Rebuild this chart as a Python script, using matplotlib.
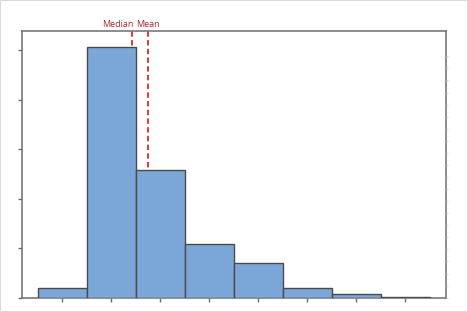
import matplotlib
matplotlib.use("Agg")
import matplotlib.pyplot as plt
from matplotlib.patches import Rectangle

# Data (percent per bin, bins centered at 1..8)
bin_centers = [1, 2, 3, 4, 5, 6, 7, 8]
percents = [1.9, 50.7, 25.9, 10.9, 6.95, 1.9, 0.8, 0.1]
median_val = 2.43
mean_val = 2.755
y_ticks = [0, 10, 20, 30, 40, 50]
right_ticks = list(range(0, 21))

fig = plt.figure(figsize=(4.68, 3.12), dpi=100)
fig.patches.append(Rectangle((0, 0), 1, 1, transform=fig.transFigure,
                             fill=False, edgecolor="#dadada", linewidth=1.5))
ax = fig.add_axes([21.5/468, 1 - 297.7/312, (446 - 21.5)/468, (297.7 - 30.5)/312])

ax.bar(bin_centers, percents, width=1.0, color="#7BA6D8", edgecolor="#4a4a4a",
       linewidth=1.0, zorder=3)

ax.axvline(median_val, color="#e00000", linestyle=(0, (3.5, 2.2)), linewidth=1.1, zorder=2)
ax.axvline(mean_val, color="#e00000", linestyle=(0, (3.5, 2.2)), linewidth=1.1, zorder=2)

ax.annotate("Median", xy=(median_val, 1.0), xycoords=("data", "axes fraction"),
            xytext=(0.8, 1.2), textcoords="offset points", ha="right", va="bottom",
            fontsize=6.5, color="#a3282e", family="Open Sans")
ax.annotate("Mean", xy=(mean_val, 1.0), xycoords=("data", "axes fraction"),
            xytext=(-0.3, 1.2), textcoords="offset points", ha="center", va="bottom",
            fontsize=6.5, color="#a3282e", family="Open Sans")

ax.set_xlim(0.167, 8.83)
ax.set_ylim(0, 54.0)
ax.set_xticks(bin_centers)
ax.set_yticks(y_ticks)
ax.set_xticklabels([])
ax.set_yticklabels([])
ax.tick_params(axis="both", direction="out", length=3, width=1.0, color="#6d6d6d")

for s in ax.spines.values():
    s.set_color("#6d6d6d")
    s.set_linewidth(1.1)

ax2 = ax.twinx()
ax2.set_ylim(0, 267.2/12.07)
ax2.set_yticks(right_ticks)
ax2.set_yticklabels([])
ax2.tick_params(axis="y", direction="out", length=1.5, width=0.7, color="#d0d0d0")
for s in ax2.spines.values():
    s.set_visible(False)

fig.savefig("out.png", dpi=100)
